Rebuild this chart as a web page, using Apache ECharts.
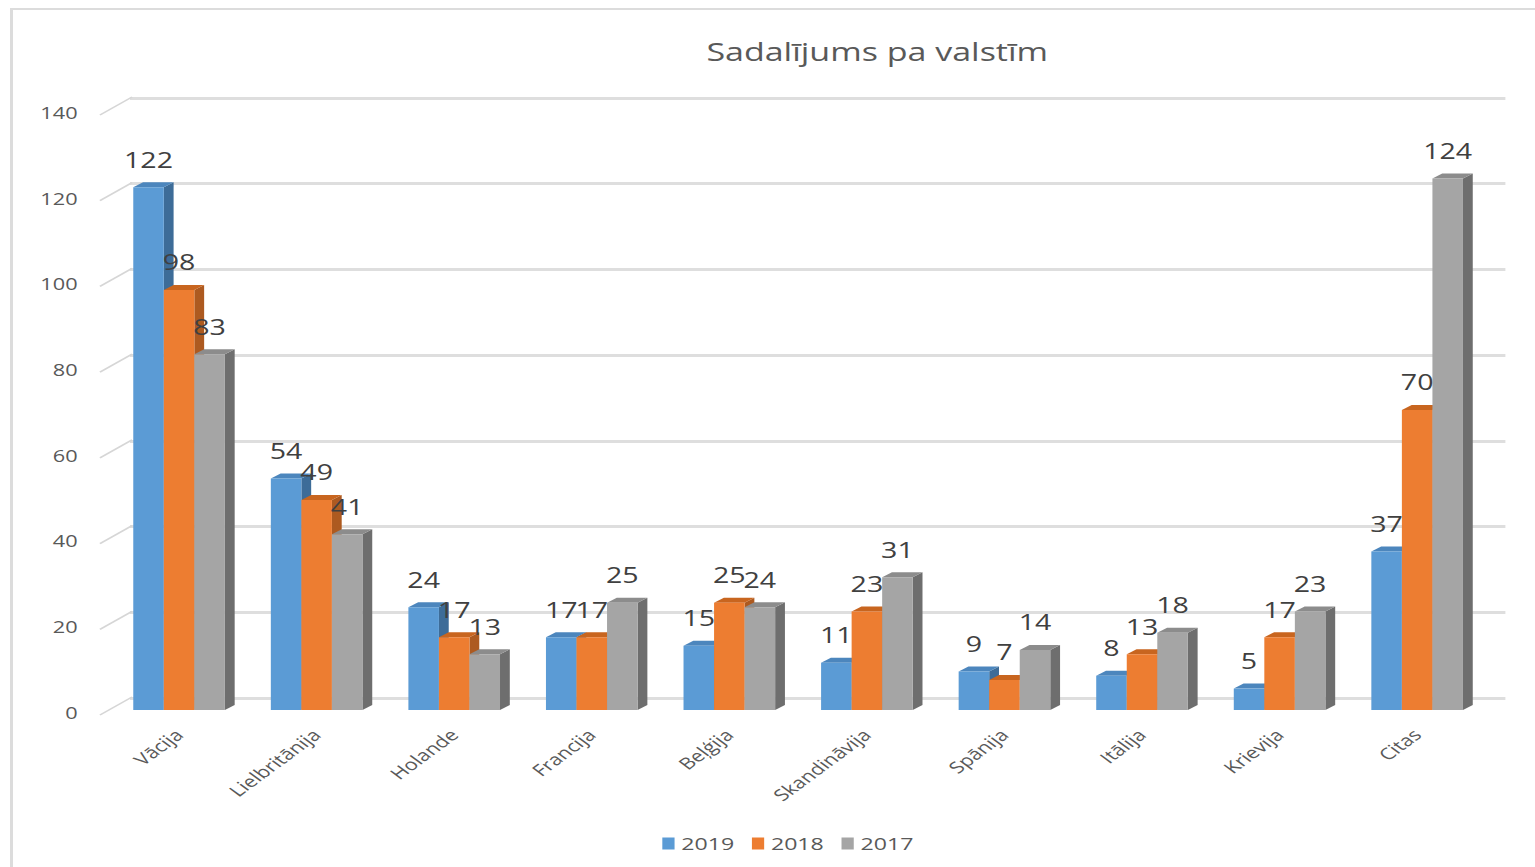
<!DOCTYPE html>
<html>
<head>
<meta charset="utf-8">
<title>Sadalījums pa valstīm</title>
<script src="https://cdn.jsdelivr.net/npm/echarts@6/dist/echarts.min.js"></script>
<style>
  html, body { margin: 0; padding: 0; background: #fff; overflow: hidden; }
  #frame {
    position: absolute; left: 10px; top: 8px; width: 1600px; height: 900px; z-index: 2;
    border-left: 3px solid #dcdcdc; border-top: 2px solid #dcdcdc; pointer-events: none;
  }
  /* the reference is stretched sideways, so the chart is drawn narrow and widened */
  #chart {
    position: absolute; left: 0; top: 0; width: 1129px; height: 867px; z-index: 1;
    transform: scaleX(1.36); transform-origin: 0 0;
  }
</style>
</head>
<body>
<div id="chart"></div>
<div id="frame"></div>
<script>
var countries = ['Vācija', 'Lielbritānija', 'Holande', 'Francija', 'Beļģija',
  'Skandināvija', 'Spānija', 'Itālija', 'Krievija', 'Citas'];
var years = ['2019', '2018', '2017'];
var v2019 = [122, 54, 24, 17, 15, 11, 9, 8, 5, 37];
var v2018 = [98, 49, 17, 17, 25, 23, 7, 13, 17, 70];
var v2017 = [83, 41, 13, 25, 24, 31, 14, 18, 23, 124];
var yTicks = [0, 20, 40, 60, 80, 100, 120, 140];

var fronts = ['#5b9bd5', '#ed7d31', '#a5a5a5'];
var sides = ['#3d6c98', '#ad5a20', '#6e6e6e'];
var tops = ['#4c86bd', '#c8651f', '#8c8c8c'];
var font = '"Open Sans", "DejaVu Sans", sans-serif';

var myChart = echarts.init(document.getElementById('chart'), null, { renderer: 'svg' });

function barRenderer(k) {
  return function (params, api) {
    var idx = api.value(0);
    var v = api.value(1);
    var top = api.coord([idx, v]);
    var base = api.coord([idx, 0]);
    var band = api.size([1, 0])[0];
    var w = band * 0.222;
    var x = top[0] - 1.5 * w + k * w;
    var dx = 7.2, dy = -5;
    var y = top[1], b = base[1];
    return {
      type: 'group',
      children: [
        {
          type: 'polygon',
          shape: { points: [[x + w, y], [x + w + dx, y + dy], [x + w + dx, b + dy], [x + w, b]] },
          style: { fill: sides[k] }
        },
        {
          type: 'polygon',
          shape: { points: [[x, y], [x + dx, y + dy], [x + w + dx, y + dy], [x + w, y]] },
          style: { fill: tops[k] }
        },
        {
          type: 'rect',
          shape: { x: x, y: y, width: w, height: b - y },
          style: { fill: fronts[k] }
        },
        {
          type: 'text',
          z2: 10,
          style: {
            text: String(v), x: x + w / 2, y: y - 28,
            align: 'center', verticalAlign: 'middle',
            fontSize: 21, fontFamily: font, fill: '#404040'
          }
        }
      ]
    };
  };
}

function stubRenderer(params, api) {
  var p = api.coord([0, api.value(1)]);
  var x0 = params.coordSys.x;
  return {
    type: 'line',
    shape: { x1: x0 - 7.6, y1: p[1] + 5, x2: x0 + 16, y2: p[1] - 13 },
    style: { stroke: '#d6d6d6', lineWidth: 1.5 }
  };
}

var seriesValues = [v2019, v2018, v2017];
var series = years.map(function (yr, k) {
  return {
    name: yr,
    type: 'custom',
    xAxisIndex: 0,
    yAxisIndex: 0,
    clip: false,
    itemStyle: { color: fronts[k] },
    renderItem: barRenderer(k),
    encode: { x: 0, y: 1 },
    data: seriesValues[k].map(function (v, i) { return [i, v]; })
  };
});
series.push({
  type: 'custom',
  xAxisIndex: 0,
  yAxisIndex: 0,
  clip: false,
  silent: true,
  renderItem: stubRenderer,
  encode: { x: 0, y: 1 },
  data: yTicks.map(function (t) { return [0, t]; })
});

var option = {
  animation: false,
  backgroundColor: 'transparent',
  title: {
    text: 'Sadalījums pa valstīm',
    left: 640,
    textAlign: 'center',
    top: 34,
    textStyle: { fontSize: 25, fontWeight: 'normal', color: '#595959', fontFamily: font }
  },
  legend: {
    data: years,
    left: 482,
    top: 830,
    icon: 'rect',
    itemWidth: 9,
    itemHeight: 12,
    itemGap: 13,
    textStyle: { fontSize: 17, color: '#595959', fontFamily: font }
  },
  grid: [
    { left: 81.1, right: 36.4, top: 110, bottom: 157 },
    { left: 95.6, right: 22.1, top: 98, bottom: 169 }
  ],
  xAxis: [
    {
      type: 'category',
      data: countries,
      gridIndex: 0,
      axisLine: { show: false },
      axisTick: { show: false },
      axisLabel: { rotate: 45, margin: 22, fontSize: 16, color: '#595959', fontFamily: font, interval: 0 }
    },
    { type: 'value', gridIndex: 1, show: false, min: 0, max: 1 }
  ],
  yAxis: [
    {
      type: 'value',
      gridIndex: 0,
      min: 0,
      max: 140,
      interval: 20,
      axisLine: { show: false },
      axisTick: { show: false },
      splitLine: { show: false },
      axisLabel: {
        margin: 24, fontSize: 16, color: '#595959', fontFamily: font,
        verticalAlign: 'top', lineHeight: 6
      }
    },
    {
      type: 'value',
      gridIndex: 1,
      min: 0,
      max: 140,
      interval: 20,
      axisLine: { show: false },
      axisTick: { show: false },
      axisLabel: { show: false },
      splitLine: { show: true, lineStyle: { color: '#dedede', width: 3 } }
    }
  ],
  series: series
};

myChart.setOption(option);
window.addEventListener('resize', myChart.resize);
</script>
</body>
</html>
